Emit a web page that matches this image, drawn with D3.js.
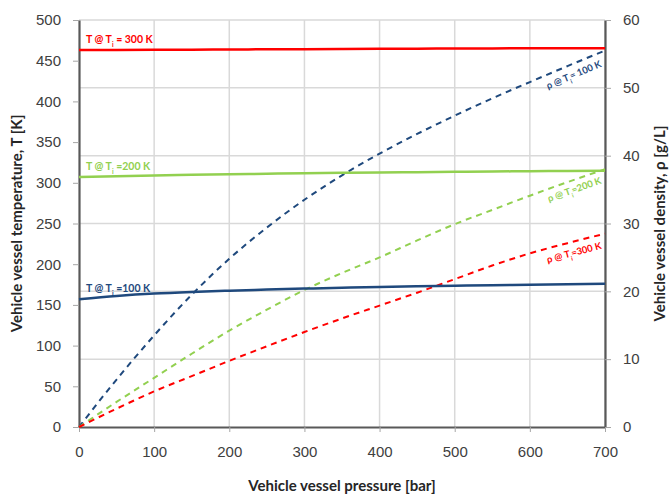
<!DOCTYPE html>
<html>
<head>
<meta charset="utf-8">
<script src="https://cdn.jsdelivr.net/npm/d3@7"></script>
<style>
  body { margin: 0; background: #fff; }
  svg { font-family: Lato, "Open Sans", sans-serif; }
</style>
</head>
<body>
<div id="container"></div>
<script>
// pressure in bar
const pressure = [0, 50, 100, 150, 200, 250, 300, 350, 400, 450, 500, 550, 600, 650, 700]

// vessel temperature [K] for each initial temperature
const temp300 = [463, 463.2, 463.4, 463.6, 463.8, 464, 464.2, 464.4, 464.6, 464.8, 465, 465.1, 465.2, 465.3, 465.4]
const temp200 = [307, 308, 309, 309.8, 310.5, 311.1, 311.7, 312.2, 312.7, 313.1, 313.5, 313.9, 314.2, 314.5, 314.8]
const temp100 = [157, 161, 164, 166, 167.5, 168.8, 170, 171, 172, 172.8, 173.5, 174.2, 174.8, 175.4, 176]

// vessel density [g/L]
const dens100 = [0, 7, 13.5, 19.5, 24.8, 29.4, 33.5, 37.1, 40.3, 43.2, 45.9, 48.45, 50.85, 53.2, 55.5]
const dens200 = [0, 3.7, 7.25, 10.8, 14.2, 17.3, 20.2, 22.7, 25, 27.5, 29.9, 32, 34.1, 36.1, 38]
const dens300 = [0, 2.7, 5.25, 7.5, 9.75, 11.9, 14, 16, 17.9, 19.8, 21.8, 23.8, 25.6, 27.1, 28.5]

const xTicks = [0, 100, 200, 300, 400, 500, 600, 700]
const leftTicks = [0, 50, 100, 150, 200, 250, 300, 350, 400, 450, 500]
const rightTicks = [0, 10, 20, 30, 40, 50, 60]

const red = "#ff0000", green = "#92d050", blue = "#1f497d"

const width = 671, height = 497
const margin = {top: 20, right: 66, bottom: 70, left: 79}

const svg = d3.create("svg").attr("width", width).attr("height", height)

const x = d3.scaleLinear().domain([0, 700]).range([margin.left, width - margin.right])
const yT = d3.scaleLinear().domain([0, 500]).range([height - margin.bottom, margin.top])
const yD = d3.scaleLinear().domain([0, 60]).range([height - margin.bottom, margin.top])

// grid
svg.append("g")
    .selectAll("line.v")
    .data(xTicks.slice(1))
    .join("line")
    .attr("x1", d => x(d)).attr("x2", d => x(d))
    .attr("y1", yD(0)).attr("y2", yD(60))
    .attr("stroke", "#d9d9d9").attr("stroke-width", 1.5)

svg.append("g")
    .selectAll("line.h")
    .data(rightTicks.slice(1))
    .join("line")
    .attr("x1", x(0)).attr("x2", x(700))
    .attr("y1", d => yD(d)).attr("y2", d => yD(d))
    .attr("stroke", "#d9d9d9").attr("stroke-width", 1.5)

// axes
function styleAxis(g){
    g.select(".domain").attr("stroke", "#595959").attr("stroke-width", 2.2)
    g.selectAll(".tick line").attr("stroke", "#a6a6a6").attr("stroke-width", 1)
    g.selectAll(".tick text").attr("fill", "#404040").style("font-size", "15px")
}

svg.append("g")
    .attr("transform", `translate(0, ${yT(0)})`)
    .call(d3.axisBottom(x).tickValues(xTicks).tickSize(5).tickSizeOuter(0).tickPadding(14))
    .call(styleAxis)

svg.append("g")
    .attr("transform", `translate(${x(0)}, 0)`)
    .call(d3.axisLeft(yT).tickValues(leftTicks).tickSize(6).tickSizeOuter(0).tickPadding(12))
    .call(styleAxis)

svg.append("g")
    .attr("transform", `translate(${x(700)}, 0)`)
    .call(d3.axisRight(yD).tickValues(rightTicks).tickSize(6).tickSizeOuter(0).tickPadding(12))
    .call(styleAxis)

// lines
const tLine = d3.line().x((d, i) => x(pressure[i])).y(d => yT(d)).curve(d3.curveMonotoneX)
const dLine = d3.line().x((d, i) => x(pressure[i])).y(d => yD(d)).curve(d3.curveMonotoneX)

const plot = svg.append("g")

const tSeries = [
    {values: temp300, color: red, label: " = 300 K"},
    {values: temp200, color: green, label: " =200 K"},
    {values: temp100, color: blue, label: " =100 K"}
]
const dSeries = [
    {values: dens100, color: blue, label: "= 100 K", dy: 16},
    {values: dens200, color: green, label: "=200 K", dy: 14},
    {values: dens300, color: red, label: "=300 K", dy: 15}
]

plot.selectAll(".dens")
    .data(dSeries)
    .join("path")
    .attr("class", "dens")
    .attr("d", d => dLine(d.values))
    .attr("fill", "none")
    .attr("stroke", d => d.color)
    .attr("stroke-width", 2)
    .attr("stroke-dasharray", "6,5")

plot.selectAll(".temp")
    .data(tSeries)
    .join("path")
    .attr("class", "temp")
    .attr("d", d => tLine(d.values))
    .attr("fill", "none")
    .attr("stroke", d => d.color)
    .attr("stroke-width", 2.5)

// T labels
tSeries.forEach(s => {
    const t = svg.append("text")
        .attr("x", x(0) + 7)
        .attr("y", yT(s.values[0]) - 7)
        .attr("fill", s.color)
        .style("font-size", "10.5px")
        .style("font-weight", "bold")
    t.append("tspan").text("T @ T")
    t.append("tspan").text("i").attr("baseline-shift", "sub").style("font-size", "6.5px")
    t.append("tspan").text(s.label)
})

// density labels, rotated along the curve end
dSeries.forEach(s => {
    const n = s.values.length
    const dx = x(pressure[n - 1]) - x(pressure[n - 3])
    const dy = yD(s.values[n - 1]) - yD(s.values[n - 3])
    const ang = Math.atan2(dy, dx) * 180 / Math.PI
    const px = x(700) - 3, py = yD(s.values[n - 1]) + s.dy
    const t = svg.append("text")
        .attr("transform", `translate(${px}, ${py}) rotate(${ang})`)
        .attr("text-anchor", "end")
        .attr("fill", s.color)
        .style("font-size", "9.5px")
        .style("font-weight", "bold")
    t.append("tspan").text("ρ @ T")
    t.append("tspan").text("i").attr("baseline-shift", "sub").style("font-size", "6px")
    t.append("tspan").text(s.label)
})

// axis titles
svg.append("text")
    .attr("x", (x(0) + x(700)) / 2)
    .attr("y", 491)
    .attr("text-anchor", "middle")
    .attr("fill", "#262626")
    .style("font-size", "15px").style("font-weight", "bold")
    .text("Vehicle vessel pressure [bar]")

svg.append("text")
    .attr("transform", `translate(22, ${(yT(0) + yT(500)) / 2}) rotate(-90)`)
    .attr("text-anchor", "middle")
    .attr("fill", "#262626")
    .style("font-size", "15px").style("font-weight", "bold")
    .text("Vehicle vessel temperature, T [K]")

svg.append("text")
    .attr("transform", `translate(665, ${(yT(0) + yT(500)) / 2}) rotate(-90)`)
    .attr("text-anchor", "middle")
    .attr("fill", "#262626")
    .style("font-size", "15px").style("font-weight", "bold")
    .text("Vehicle vessel density, ρ [g/L]")

document.querySelector("#container").appendChild(svg.node())
</script>
</body>
</html>
